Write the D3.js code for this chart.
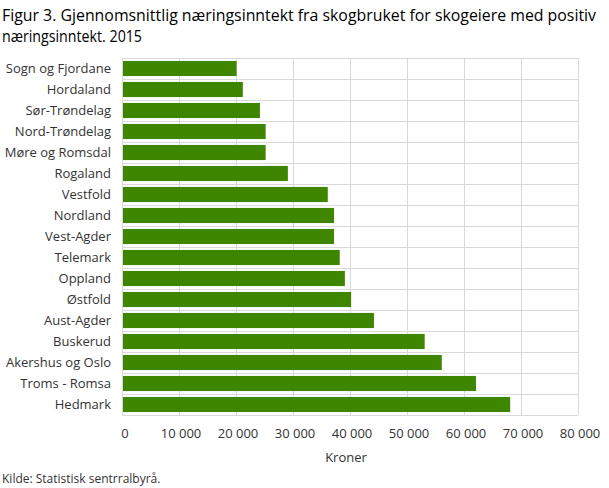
<!DOCTYPE html>
<html lang="no">
<head>
  <meta charset="UTF-8">
  <title>Figur 3</title>
  <script src="https://d3js.org/d3.v7.min.js"></script>
  <style>
    body { margin: 0; background: #fff; }
    svg { display: block; font-family: 'Open Sans', sans-serif; }
    .title { font-size: 16px; fill: #000; }
    .cat { font-size: 13px; fill: #333; }
    .tick-label { font-size: 13px; fill: #333; }
    .grid line { stroke: #d9d9d9; stroke-width: 1; }
  </style>
</head>
<body>
  <svg id="chart" width="609" height="488"></svg>
  <script>
    const regions = ['Sogn og Fjordane', 'Hordaland', 'Sør-Trøndelag', 'Nord-Trøndelag',
      'Møre og Romsdal', 'Rogaland', 'Vestfold', 'Nordland', 'Vest-Agder', 'Telemark',
      'Oppland', 'Østfold', 'Aust-Agder', 'Buskerud', 'Akershus og Oslo', 'Troms - Romsa', 'Hedmark'];
    const income = [20100, 21200, 24200, 25200, 25200, 29100, 36100, 37200, 37200, 38200,
      39100, 40200, 44200, 53100, 56100, 62100, 68100];
    const xTicks = [0, 10000, 20000, 30000, 40000, 50000, 60000, 70000, 80000];

    const svg = d3.select('#chart');
    const plotLeft = 122, plotRight = 578, plotTop = 58, plotBottom = 415;

    const x = d3.scaleLinear().domain([0, 80000]).range([plotLeft, plotRight]);
    const y = d3.scaleBand().domain(regions).range([plotTop, plotBottom]).paddingInner(0.28).paddingOuter(0.14);
    const rowStep = (plotBottom - plotTop) / regions.length;

    // title
    const title = svg.append('text').attr('class', 'title').attr('x', 2).attr('y', 21);
    title.append('tspan').attr('x', 2).attr('textLength', 594).attr('lengthAdjust', 'spacingAndGlyphs')
      .text('Figur 3. Gjennomsnittlig næringsinntekt fra skogbruket for skogeiere med positiv');
    title.append('tspan').attr('x', 2).attr('dy', 21).attr('textLength', 140).attr('lengthAdjust', 'spacingAndGlyphs')
      .text('næringsinntekt. 2015');

    // grid
    const grid = svg.append('g').attr('class', 'grid');
    grid.selectAll('.v').data(xTicks).enter().append('line')
      .attr('x1', d => Math.round(x(d)) + 0.5).attr('x2', d => Math.round(x(d)) + 0.5)
      .attr('y1', plotTop).attr('y2', plotBottom);
    grid.selectAll('.h').data(d3.range(regions.length + 1)).enter().append('line')
      .attr('x1', plotLeft).attr('x2', plotRight)
      .attr('y1', i => Math.round(plotTop + i * rowStep) + 0.5)
      .attr('y2', i => Math.round(plotTop + i * rowStep) + 0.5);

    // bars
    svg.selectAll('.bar').data(regions).enter().append('rect')
      .attr('class', 'bar')
      .attr('x', x(0) + 1)
      .attr('y', d => y(d))
      .attr('width', (d, i) => x(income[i]) - x(0) - 1)
      .attr('height', y.bandwidth())
      .attr('fill', '#3f8600');

    // category labels
    svg.selectAll('.cat').data(regions).enter().append('text')
      .attr('class', 'cat')
      .attr('x', 111)
      .attr('y', d => y(d) + y.bandwidth() / 2)
      .attr('dy', '0.35em')
      .attr('text-anchor', 'end')
      .text(d => d);

    // x tick labels
    svg.selectAll('.tick-label').data(xTicks).enter().append('text')
      .attr('class', 'tick-label')
      .attr('x', d => x(d) + (d === 0 ? 3 : 2))
      .attr('y', 438)
      .attr('text-anchor', 'middle')
      .text(d => d3.format(',')(d).replace(/,/g, ' '));

    svg.append('text').attr('class', 'tick-label')
      .attr('x', (plotLeft + plotRight) / 2 - 4).attr('y', 462)
      .attr('text-anchor', 'middle').text('Kroner');

    svg.append('text')
      .attr('x', 2).attr('y', 483)
      .style('font-size', '12px').style('fill', '#333')
      .text('Kilde: Statistisk sentrralbyrå.');
  </script>
</body>
</html>
